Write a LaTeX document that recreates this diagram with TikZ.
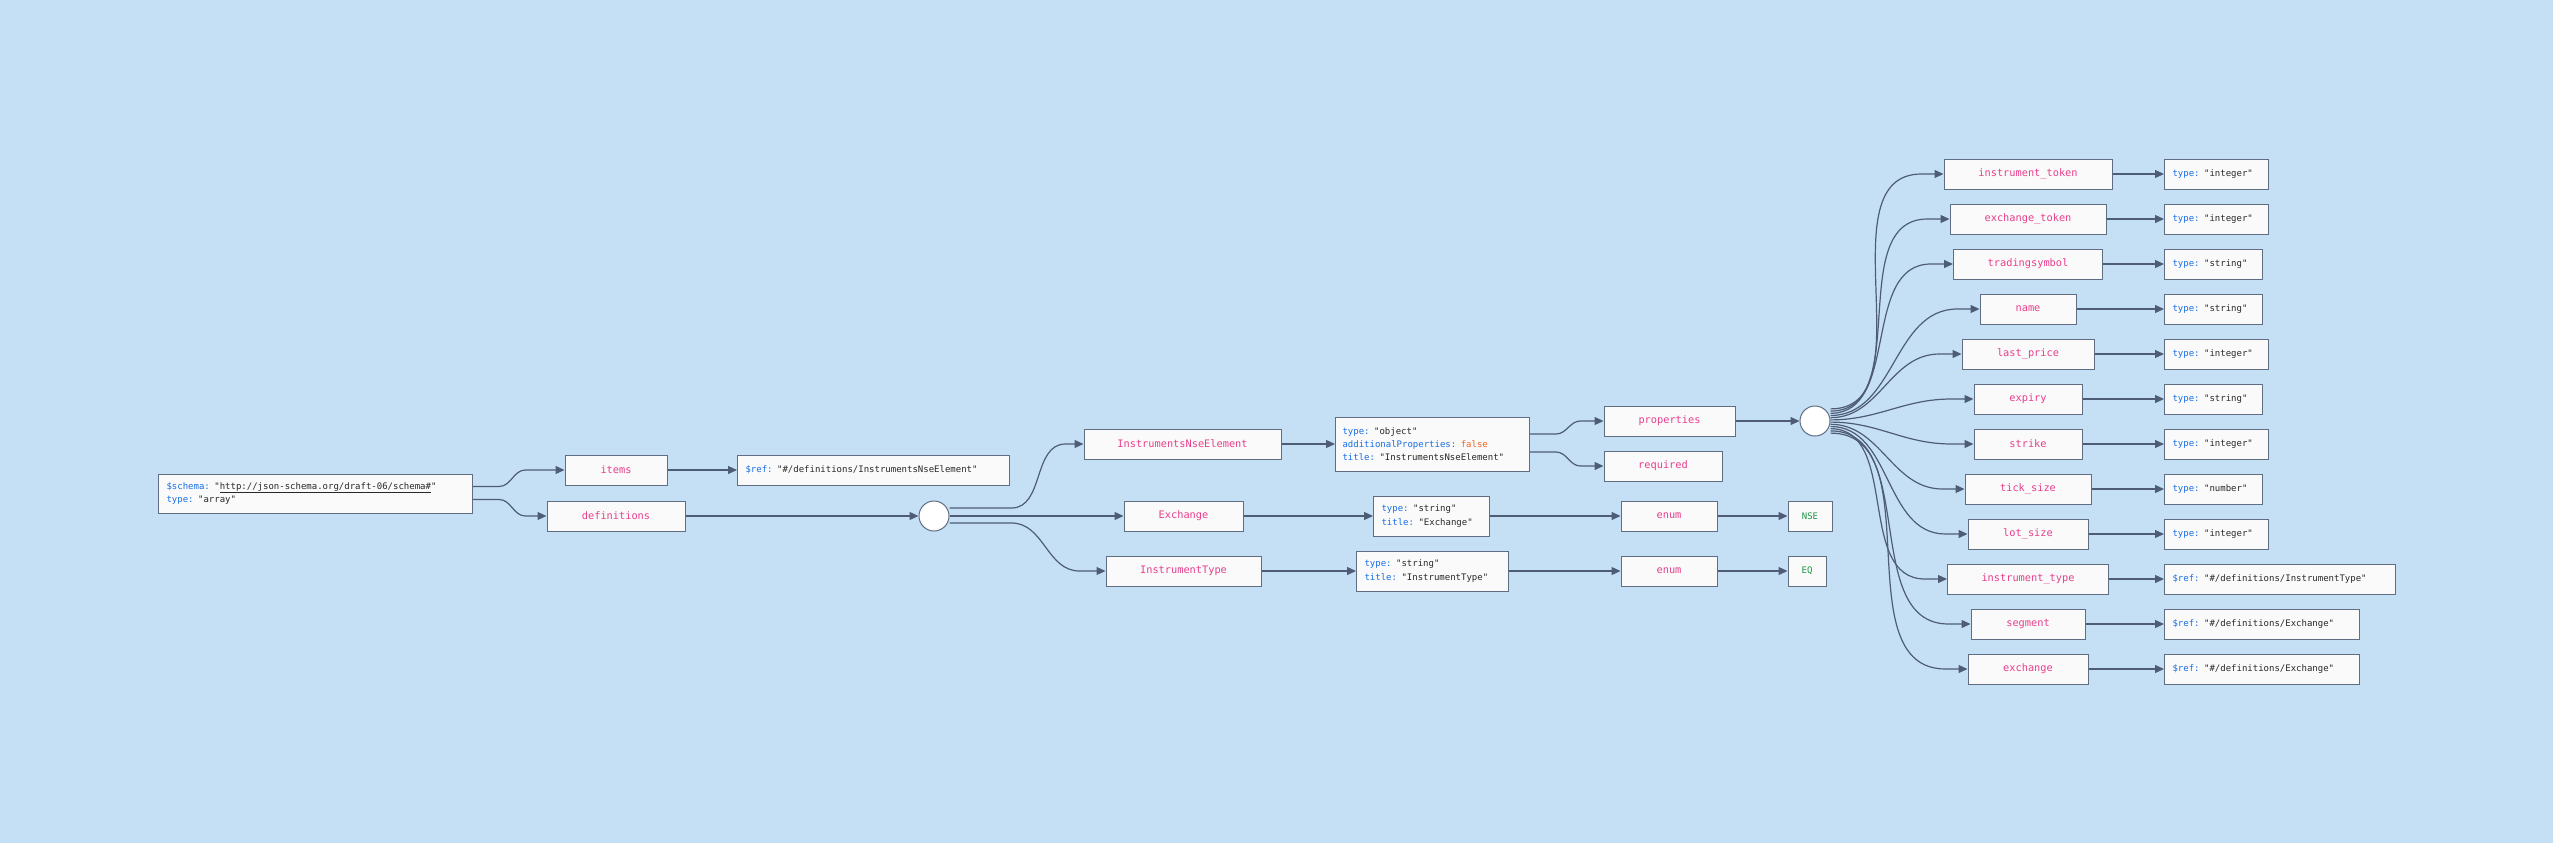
\documentclass[tikz,border=0pt]{standalone}
\usepackage{fontspec}
\setmonofont{DejaVu Sans Mono}
\usetikzlibrary{arrows.meta}

\definecolor{bgblue}{RGB}{197,224,245}
\definecolor{boxfill}{RGB}{250,250,250}
\definecolor{boxline}{RGB}{96,110,132}
\definecolor{edgeline}{RGB}{78,92,118}
\definecolor{keypink}{RGB}{232,62,140}
\definecolor{keyblue}{RGB}{24,110,230}
\definecolor{valgray}{RGB}{40,40,40}
\definecolor{boolorange}{RGB}{240,100,30}
\definecolor{enumgreen}{RGB}{30,150,70}

\newcommand{\kw}[1]{\textcolor{keyblue}{#1:}}

\begin{document}
\begin{tikzpicture}[x=1pt, y=-1pt,
  propbox/.style={draw=boxline, fill=boxfill, line width=1pt, minimum height=30pt,
    minimum width=#1, inner sep=0pt, text=keypink, font=\ttfamily\fontsize{10.3}{12}\selectfont},
  valbox/.style={draw=boxline, fill=boxfill, line width=1pt, minimum height=30pt,
    text width=#1, inner xsep=8pt, inner ysep=0pt, align=left, anchor=west,
    text=valgray, font=\ttfamily\fontsize{9}{13.5}\selectfont},
  enumbox/.style={propbox=#1, text=enumgreen, font=\ttfamily\fontsize{9}{12}\selectfont},
  hub/.style={circle, draw=boxline, fill=white, line width=1pt, minimum size=30pt, inner sep=0pt},
  conn/.style={draw=edgeline, line width=1.2pt, -{Triangle[length=9pt,width=8pt]}}]
\fill[bgblue] (0,0) rectangle (2553,843);

% root and definitions
\node[valbox=298pt, minimum height=39pt] (root) at (158,493.5)
  {\kw{\$schema} "\underline{http://json-schema.org/draft-06/schema\#}"\\ \kw{type} "array"};
\node[propbox=102pt] (items) at (616,470) {items};
\node[propbox=138pt] (defs) at (616,516) {definitions};
\node[valbox=256pt] (itemsref) at (737,470) {\kw{\$ref} "\#/definitions/InstrumentsNseElement"};
\node[hub] (split) at (934,516) {};

\node[propbox=197pt] (nse) at (1182.5,444) {InstrumentsNseElement};
\node[propbox=119pt] (exch) at (1183.5,516) {Exchange};
\node[propbox=155pt] (itype) at (1183.5,571) {InstrumentType};

\node[valbox=180pt, minimum height=54pt, inner xsep=7pt, font=\ttfamily\fontsize{9}{13}\selectfont] (nseobj) at (1335,444)
  {\kw{type} "object"\\ \kw{additionalProperties} \textcolor{boolorange}{false}\\ \kw{title} "InstrumentsNseElement"};
\node[valbox=100pt, minimum height=40pt] (exchobj) at (1373,516) {\kw{type} "string"\\ \kw{title} "Exchange"};
\node[valbox=136pt, minimum height=40pt] (itypeobj) at (1356,571) {\kw{type} "string"\\ \kw{title} "InstrumentType"};

\node[propbox=131pt] (props) at (1669.5,421) {properties};
\node[propbox=118pt] (req) at (1663,466) {required};
\node[propbox=96pt] (enumx) at (1669,516) {enum};
\node[propbox=96pt] (enumt) at (1669,571) {enum};
\node[enumbox=44pt] (nsev) at (1810,516) {NSE};
\node[enumbox=38pt] (eqv) at (1807,571) {EQ};
\node[hub] (fan) at (1815,421) {};

\draw[conn] ([yshift=7pt]root.east) -- ++(26,0) to[out=0,in=180] ([xshift=-39pt]items.west) -- (items.west);
\draw[conn] ([yshift=-6pt]root.east) -- ++(26,0) to[out=0,in=180] ([xshift=-21pt]defs.west) -- (defs.west);
\draw[conn] (items) -- (itemsref);
\draw[conn] (defs) -- (split);
\draw[conn] ([yshift=8pt]split.east) -- ++(62,0) to[out=0,in=180] ([xshift=-18pt]nse.west) -- (nse.west);
\draw[conn] (split) -- (exch);
\draw[conn] ([yshift=-7pt]split.east) -- ++(62,0) to[out=0,in=180] ([xshift=-26pt]itype.west) -- (itype.west);
\draw[conn] (nse) -- (nseobj);
\draw[conn] (exch) -- (exchobj);
\draw[conn] (itype) -- (itypeobj);
\draw[conn] ([yshift=10pt]nseobj.east) -- ++(26,0) to[out=0,in=180] ([xshift=-23pt]props.west) -- (props.west);
\draw[conn] ([yshift=-8pt]nseobj.east) -- ++(26,0) to[out=0,in=180] ([xshift=-23pt]req.west) -- (req.west);
\draw[conn] (exchobj) -- (enumx);
\draw[conn] (enumx) -- (nsev);
\draw[conn] (itypeobj) -- (enumt);
\draw[conn] (enumt) -- (eqv);
\draw[conn] (props) -- (fan);

% properties
\foreach \pname/\pw/\vkey/\vval/\vw [count=\i] in {
    instrument\_token/168pt/type/"integer"/88pt,
    exchange\_token/156pt/type/"integer"/88pt,
    tradingsymbol/149pt/type/"string"/82pt,
    name/96pt/type/"string"/82pt,
    last\_price/132pt/type/"integer"/88pt,
    expiry/108pt/type/"string"/82pt,
    strike/108pt/type/"integer"/88pt,
    tick\_size/126pt/type/"number"/82pt,
    lot\_size/120pt/type/"integer"/88pt,
    instrument\_type/161pt/\$ref/{"\#/definitions/InstrumentType"}/215pt,
    segment/114pt/\$ref/{"\#/definitions/Exchange"}/179pt,
    exchange/120pt/\$ref/{"\#/definitions/Exchange"}/179pt}
{
  \node[propbox=\pw] (p\i) at (2028,129+45*\i) {\pname};
  \node[valbox=\vw] (v\i) at (2164,129+45*\i) {\kw{\vkey} \vval};
  \draw[conn] (p\i) -- (v\i);
  \draw[conn] ([yshift={(6.5-\i)*2.2pt}]fan.east) to[out=0,in=180] ([xshift=-22pt]p\i.west) -- (p\i.west);
}
\end{tikzpicture}
\end{document}
